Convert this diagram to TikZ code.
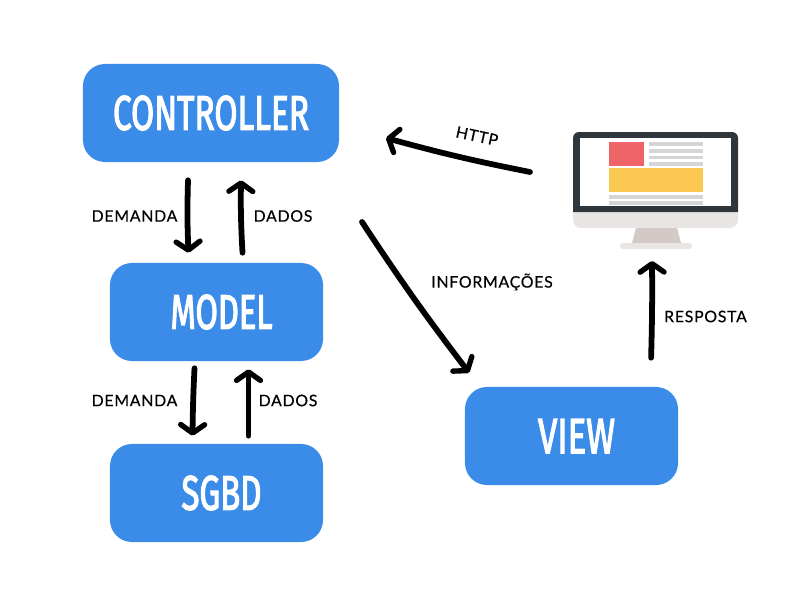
\documentclass[tikz,border=0pt]{standalone}
\usepackage{fontspec}
\usepackage{graphicx}
\setmainfont{Lato}
\newfontfamily\titlefont[FakeBold=3]{Fira Sans}
\newfontfamily\labelfont[LetterSpace=4.5,FakeBold=0.4]{Lato}
\usetikzlibrary{arrows.meta}
\definecolor{boxblue}{HTML}{3B8BE8}
\definecolor{bezel}{HTML}{2F363C}
\definecolor{chin}{HTML}{E9E5E5}
\definecolor{stand}{HTML}{D3CAC8}
\definecolor{barline}{HTML}{D4D5D7}
\definecolor{redblock}{HTML}{EE6468}
\definecolor{yellowblock}{HTML}{FBC952}
\tikzset{
  mvcbox/.style={fill=boxblue,rounded corners=0.55cm,minimum width=5.325cm,minimum height=2.45cm,inner sep=0pt,text=white},
  handarrow/.style={line width=4.1pt,line cap=round,-{Straight Barb[round,length=6pt,width=17pt,line width=3.8pt]}},
  flowlabel/.style={font=\labelfont\fontsize{11.3}{12}\selectfont,inner sep=0pt}
}
\begin{document}
\begin{tikzpicture}[x=0.025cm,y=-0.025cm]
\useasboundingbox (0,0) rectangle (800,600);
% Boxes
\node[mvcbox,minimum width=6.4cm] (controller) at (211,113) {\resizebox{4.9cm}{0.85cm}{\titlefont CONTROLLER}};
\node[mvcbox] (model) at (216.5,312) {\hspace*{0.25cm}\resizebox{2.55cm}{0.85cm}{\titlefont MODEL}};
\node[mvcbox] (sgbd) at (216.5,493) {\hspace*{0.25cm}\resizebox{2cm}{0.85cm}{\titlefont SGBD}};
\node[mvcbox] (view) at (571.5,436) {\hspace*{0.25cm}\resizebox{1.925cm}{0.85cm}{\titlefont VIEW}};
% Monitor
\fill[chin,rounded corners=0.2cm] (573,205) rectangle (738,228);
\fill[bezel] (573,212) [rounded corners=0.15cm] -- (573,132) -- (738,132) [sharp corners] -- (738,212) -- cycle;
\fill[white] (580,138) rectangle (731,206);
\fill[stand] (636,228) -- (677,228) -- (681,243) -- (632,243) -- cycle;
\fill[chin,rounded corners=0.07cm] (620,243) rectangle (692,249);
\fill[redblock] (609,142) rectangle (644,165.5);
\fill[yellowblock] (609,168) rectangle (703,192);
\foreach \y in {142,149,155.5,162} {
  \fill[barline] (649,\y) rectangle (703,\y+3.7);
}
\foreach \y in {195,201} {
  \fill[barline] (609,\y) rectangle (703,\y+3.7);
}
\coordinate (monitorleft) at (530,172);
\coordinate (monitorbottom) at (652,261);
\coordinate (controllerright) at (386,138);
\coordinate (controllerlow) at (362,222);
% Arrows between the boxes
\draw[handarrow] ([xshift=-0.575cm,yshift=-0.45cm]controller.south) to[bend right=2] ([xshift=-0.7cm,yshift=0.25cm]model.north);
\draw[handarrow] ([xshift=0.65cm,yshift=0.25cm]model.north) to[bend left=2] ([xshift=0.75cm,yshift=-0.45cm]controller.south);
\draw[handarrow] ([xshift=-0.55cm,yshift=-0.175cm]model.south) to[bend right=1] ([xshift=-0.6cm,yshift=0.2cm]sgbd.north);
\draw[handarrow] ([xshift=0.8cm,yshift=0.2cm]sgbd.north) -- ([xshift=0.8cm,yshift=-0.2cm]model.south);
\draw[handarrow] (monitorleft) to[bend left=2] (controllerright);
\draw[handarrow] (controllerlow) to[bend right=2] ([xshift=-2.56cm,yshift=0.35cm]view.north);
\draw[handarrow] ([xshift=1.99cm,yshift=0.725cm]view.north) to[bend right=1] (monitorbottom);
% Labels
\node[flowlabel] (demandaa) at (134.5,216) {DEMANDA};
\node[flowlabel] (dadosa) at (283,216) {DADOS};
\node[flowlabel] (demandab) at (134.5,400.5) {DEMANDA};
\node[flowlabel] (dadosb) at (288,400.5) {DADOS};
\node[flowlabel] (informacoes) at (492,282) {INFORMAÇÕES};
\node[flowlabel] (resposta) at (705.5,316.5) {RESPOSTA};
\node[flowlabel,rotate=-12] (http) at (477,136) {HTTP};
\end{tikzpicture}
\end{document}
